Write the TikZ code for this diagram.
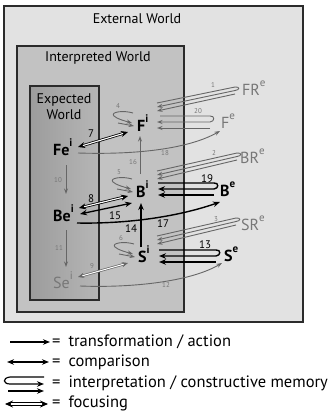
\documentclass[tikz,border=0pt]{standalone}
\usepackage{fontspec}
\setmainfont{PT Sans}
\usetikzlibrary{arrows.meta,calc}
\definecolor{outerfill}{HTML}{E2E2E2}
\definecolor{interpfill}{HTML}{C2C2C2}
\definecolor{expL}{HTML}{9C9C9C}
\definecolor{expR}{HTML}{B6B6B6}
\definecolor{boxline}{HTML}{2B2B2B}
\definecolor{gtext}{HTML}{777777}
\definecolor{garr}{HTML}{666666}
\newcommand\sups[1]{\raisebox{8.5pt}{\fontsize{11}{11}\selectfont #1}}
\newcommand\interp[7]{%
  \draw[#1] (#2) -- (#5) .. controls ($(#5)+(5,-0.5)$) and ($(#6)+(5,-0.5)$) .. (#6) -- (#3);
  \draw[#1] (#7) -- (#4);}
\newcommand\cmloop[1]{%
  \begin{scope}[shift={(#1.base west)}]
    \draw[garrow] (-4,-18) .. controls (-14,-21) and (-27,-19) .. (-23,-15) .. controls (-20,-12) and (-12,-10) .. (-5,-8);
    \draw[garrow] (-19,-8) -- (-3,-5);
  \end{scope}}
\begin{document}
\begin{tikzpicture}[x=1pt,y=-1pt,
  box/.style={draw=boxline,line width=1.2pt},
  title/.style={inner sep=0,font=\fontsize{14}{16}\selectfont},
  lbl/.style={inner sep=0,anchor=base west},
  bnode/.style={lbl,font=\bfseries\fontsize{16}{16}\selectfont},
  gnode/.style={lbl,text=gtext,font=\fontsize{16}{16}\selectfont},
  gnum/.style={inner sep=0,text=gtext,font=\fontsize{7}{7}\selectfont},
  bnum/.style={inner sep=0,font=\fontsize{11}{11}\selectfont},
  garrow/.style={draw=garr,line width=0.9pt,-{Stealth[length=5.5pt,width=4pt]}},
  barrow/.style={draw=black,line width=1.4pt,-{Stealth[length=7pt,width=5.5pt]}},
  bcomp/.style={draw=black,line width=1.3pt,{Stealth[length=7pt,width=5.5pt]}-{Stealth[length=7pt,width=5.5pt]}},
  bfocus/.style={draw=black,line width=0.8pt,double=white,double distance=1.1pt,{Stealth[length=7pt,width=6pt]}-{Stealth[length=7pt,width=6pt]}},
  gfocus/.style={draw=garr,line width=0.7pt,double=white,double distance=1pt,{Stealth[length=6pt,width=5pt]}-{Stealth[length=6pt,width=5pt]}},
  legtext/.style={lbl,font=\fontsize{16.5}{16.5}\selectfont}]
\useasboundingbox (0,0) rectangle (331,415);
\fill[white] (0,0) rectangle (331,415);
% worlds
\draw[box,fill=outerfill] (4,6) rectangle (303,322);
\node[title] (ext) at (137,19) {External World};
\draw[box,fill=interpfill] (17,46) rectangle (184,312);
\node[title] (intw) at (98,58) {Interpreted World};
\draw[box,left color=expL,right color=expR] (30,86) rectangle (99,300);
\node[title,align=center] (expw) at (64,107) {Expected\\World};
% nodes
\node[bnode] (Fei) at (53,155) {Fe\sups{i}};
\node[bnode] (Bei) at (53,221) {Be\sups{i}};
\node[gnode] (Sei) at (53,288) {Se\sups{i}};
\node[bnode] (Fi) at (137,131) {F\sups{i}};
\node[bnode] (Bi) at (136,197) {B\sups{i}};
\node[bnode] (Si) at (138,262) {S\sups{i}};
\node[gnode] (FRe) at (242,95) {FR\sups{e}};
\node[gnode] (Fe) at (221,128) {F\sups{e}};
\node[gnode] (BRe) at (240,163) {BR\sups{e}};
\node[bnode] (Be) at (220,196) {B\sups{e}};
\node[gnode] (SRe) at (241,230) {SR\sups{e}};
\node[bnode] (Se) at (224,261) {S\sups{e}};
% interpretation coordinates
\coordinate (a1) at ($(Fi.base west)+(20,-28)$);
\coordinate (a2) at ($(Fi.base west)+(20,-24)$);
\coordinate (a3) at ($(Fi.base west)+(20,-20)$);
\coordinate (b1) at ($(FRe.base west)+(-7,-8)$);
\coordinate (b2) at ($(FRe.base west)+(-7,-4.5)$);
\coordinate (b3) at ($(FRe.base west)+(-7,-1)$);
\interp{garrow}{a1}{a2}{a3}{b1}{b2}{b3}
\coordinate (c1) at ($(Fi.base west)+(23,-15)$);
\coordinate (c2) at ($(Fi.base west)+(20,-9)$);
\coordinate (c3) at ($(Fi.base west)+(20,-3)$);
\coordinate (d1) at ($(Fe.base west)+(-11,-12)$);
\coordinate (d2) at ($(Fe.base west)+(-11,-6)$);
\coordinate (d3) at ($(Fe.base west)+(-11,0)$);
\interp{garrow}{c1}{c2}{c3}{d1}{d2}{d3}
\coordinate (e1) at ($(Bi.base west)+(21,-26)$);
\coordinate (e2) at ($(Bi.base west)+(21,-22)$);
\coordinate (e3) at ($(Bi.base west)+(21,-18)$);
\coordinate (f1) at ($(BRe.base west)+(-3,-10)$);
\coordinate (f2) at ($(BRe.base west)+(-3,-6.5)$);
\coordinate (f3) at ($(BRe.base west)+(-3,-3)$);
\interp{garrow}{e1}{e2}{e3}{f1}{f2}{f3}
\coordinate (g1) at ($(Bi.base west)+(22,-14)$);
\coordinate (g2) at ($(Bi.base west)+(22,-8)$);
\coordinate (g3) at ($(Bi.base west)+(22,-2)$);
\coordinate (h1) at ($(Be.base west)+(-6,-13)$);
\coordinate (h2) at ($(Be.base west)+(-6,-7)$);
\coordinate (h3) at ($(Be.base west)+(-6,-1)$);
\interp{barrow}{g1}{g2}{g3}{h1}{h2}{h3}
\coordinate (k1) at ($(Si.base west)+(19,-26)$);
\coordinate (k2) at ($(Si.base west)+(19,-22)$);
\coordinate (k3) at ($(Si.base west)+(19,-18)$);
\coordinate (l1) at ($(SRe.base west)+(-5,-12)$);
\coordinate (l2) at ($(SRe.base west)+(-5,-8.5)$);
\coordinate (l3) at ($(SRe.base west)+(-5,-5)$);
\interp{garrow}{k1}{k2}{k3}{l1}{l2}{l3}
\coordinate (m1) at ($(Si.base west)+(21,-12)$);
\coordinate (m2) at ($(Si.base west)+(21,-6)$);
\coordinate (m3) at ($(Si.base west)+(21,0)$);
\coordinate (n1) at ($(Se.base west)+(-8,-11)$);
\coordinate (n2) at ($(Se.base west)+(-8,-5)$);
\coordinate (n3) at ($(Se.base west)+(-8,1)$);
\interp{barrow}{m1}{m2}{m3}{n1}{n2}{n3}
% constructive memory
\cmloop{Fi}
\cmloop{Bi}
\cmloop{Si}
% transformations
\draw[garrow] ($(Fei.base west)+(13,10)$) -- ($(Bei.base west)+(13,-27)$);
\draw[garrow] ($(Bei.base west)+(13,9)$) -- ($(Sei.base west)+(13,-21)$);
\draw[barrow] ($(Si.base west)+(3,-15)$) -- ($(Bi.base west)+(5,6)$);
\draw[garrow] ($(Bi.base west)+(4,-23)$) -- ($(Fi.base west)+(3,5)$);
\draw[barrow] ($(Bei.base west)+(24,2)$) .. controls (130,224) and (180,216) .. ($(Be.base west)+(0,6)$);
\draw[garrow] ($(Fei.base west)+(25,-2)$) .. controls (140,155) and (190,148) .. ($(Fe.base west)+(-1,3)$);
\draw[garrow] ($(Sei.base west)+(27,-2)$) .. controls (130,288) and (190,282) .. ($(Se.base west)+(-2,2)$);
% focusing and comparison
\draw[bfocus] ($(Fei.base west)+(25,-8)$) -- ($(Fi.base west)+(-9,1)$);
\draw[bfocus] ($(Bei.base west)+(26,-13)$) -- ($(Bi.base west)+(-8,-1)$);
\draw[gfocus] ($(Sei.base west)+(25,-11)$) -- ($(Si.base west)+(-10,1)$);
\draw[bcomp] ($(Bei.base west)+(27,-7)$) -- ($(Bi.base west)+(-4,6)$);
% numbers
\node[gnum] (n01) at (213,85) {1};
\node[gnum] (n20) at (198,111) {20};
\node[gnum] (n04) at (118,106) {4};
\node[bnum] (n07) at (91,134) {7};
\node[gnum] (n16) at (133,162) {16};
\node[gnum] (n18) at (165,153) {18};
\node[gnum] (n02) at (214,153) {2};
\node[gnum] (n05) at (119,172) {5};
\node[bnum] (n19) at (207,179) {19};
\node[gnum] (n10) at (58,180) {10};
\node[bnum] (n08) at (91,199) {8};
\node[bnum] (n15) at (115,216) {15};
\node[bnum] (n14) at (131,229) {14};
\node[bnum] (n17) at (163,224) {17};
\node[gnum] (n03) at (216,219) {3};
\node[gnum] (n11) at (59,248) {11};
\node[gnum] (n06) at (121,238) {6};
\node[bnum] (n13) at (205,245) {13};
\node[gnum] (n09) at (92,266) {9};
\node[gnum] (n12) at (166,285) {12};
% legend
\node[legtext] (L1) at (52,346) {=\hspace{8pt}transformation / action};
\node[legtext] (L2) at (52,366) {=\hspace{8pt}comparison};
\node[legtext] (L3) at (52,387) {=\hspace{8pt}interpretation / constructive memory};
\node[legtext] (L4) at (52,407) {=\hspace{8pt}focusing};
\coordinate (p1a) at (10,342); \coordinate (p1b) at (50,342);
\draw[barrow,line width=1.2pt] (p1a) -- (p1b);
\coordinate (p2a) at (7,362); \coordinate (p2b) at (49,362);
\draw[bcomp,line width=1.2pt] (p2a) -- (p2b);
\coordinate (q1) at (10,377); \coordinate (q2) at (10,384); \coordinate (q3) at (8,391);
\coordinate (r1) at (44,377); \coordinate (r2) at (44,384); \coordinate (r3) at (44,391);
\draw[barrow,line width=1.2pt] (r1) -- (q1) .. controls (2,378) and (3,384) .. (q2) -- (r2);
\draw[barrow,line width=1.2pt] (q3) -- (r3);
\coordinate (s1) at (5,404); \coordinate (s2) at (48,404);
\draw[bfocus,line width=1pt,double distance=1.6pt,{Stealth[length=8pt,width=7pt]}-{Stealth[length=8pt,width=7pt]}] (s1) -- (s2);
\end{tikzpicture}
\end{document}
